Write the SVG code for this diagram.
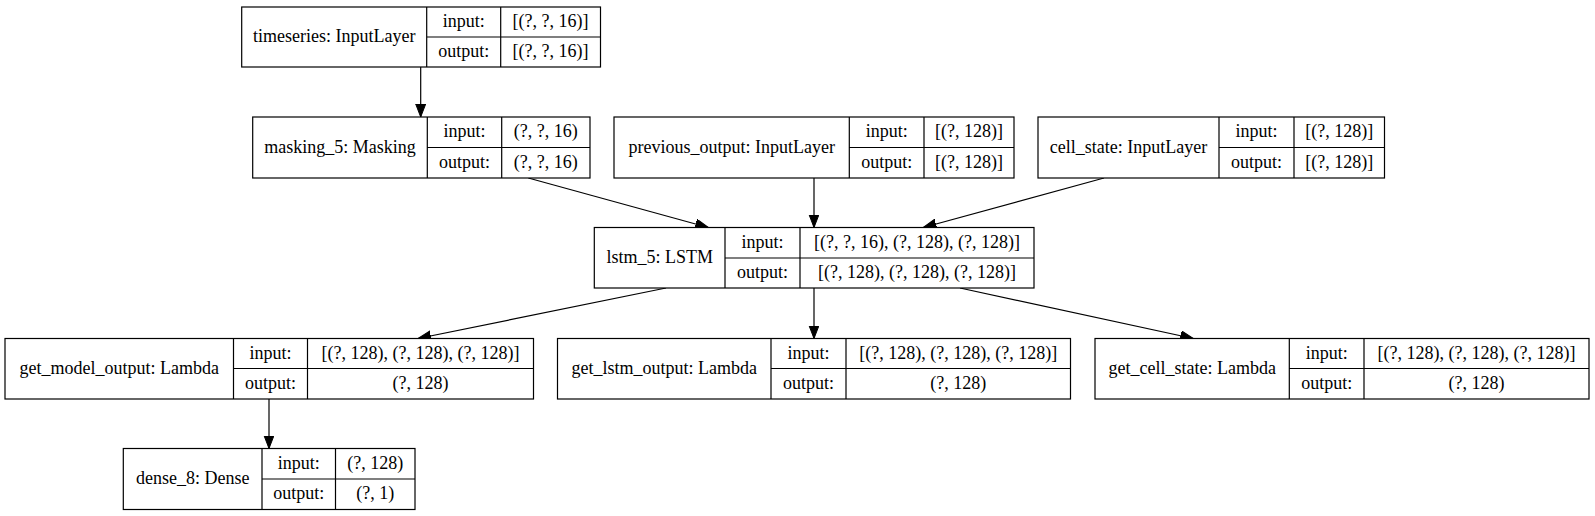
<svg xmlns="http://www.w3.org/2000/svg" width="1595" height="516" viewBox="0 0 1595 516" font-family="'Liberation Serif', 'DejaVu Serif', serif">
<style>
.b{fill:#fff;stroke:#000;stroke-width:1.2}
.d{stroke:#000;stroke-width:1.2;fill:none}
.t{font-family:'Liberation Serif', 'DejaVu Serif', serif;font-size:18px;fill:#000;text-anchor:middle}
.e{stroke:#000;stroke-width:1.2;fill:none;marker-end:url(#ah)}
</style>
<defs>
<marker id="ah" markerUnits="userSpaceOnUse" markerWidth="14" markerHeight="12" refX="13" refY="5" orient="auto">
<path d="M0,0 L13,5 L0,10 z" fill="#000" stroke="#000" stroke-width="1"/>
</marker>
</defs>
<rect width="1595" height="516" fill="#fff"/>
<g id="connectors">
<line class="e" x1="420.7" y1="67" x2="420.7" y2="117"/>
<line class="e" x1="528.3" y1="178" x2="708.3" y2="227.5"/>
<line class="e" x1="814" y1="178" x2="814" y2="227.5"/>
<line class="e" x1="1104" y1="178" x2="923.3" y2="227.5"/>
<line class="e" x1="666" y1="288" x2="418" y2="338.5"/>
<line class="e" x1="814" y1="288" x2="814" y2="338.5"/>
<line class="e" x1="960" y1="288" x2="1193.3" y2="338.5"/>
<line class="e" x1="269" y1="399" x2="269" y2="448.5"/>
</g>
<g id="timeseries" class="t">
<rect class="b" x="241.7" y="7" width="358.8" height="60"/>
<path class="d" d="M426.7,7V67M500.7,7V67M426.7,37H600.5"/>
<text x="334.2" y="42">timeseries: InputLayer</text>
<text x="463.7" y="27">input:</text>
<text x="463.7" y="57">output:</text>
<text x="550.6" y="27">[(?, ?, 16)]</text>
<text x="550.6" y="57">[(?, ?, 16)]</text>
</g>
<g id="masking_5" class="t">
<rect class="b" x="252.7" y="117" width="337.3" height="61"/>
<path class="d" d="M427.3,117V178M501.7,117V178M427.3,147.5H590"/>
<text x="340" y="152.5">masking_5: Masking</text>
<text x="464.5" y="137.3">input:</text>
<text x="464.5" y="167.8">output:</text>
<text x="545.8" y="137.3">(?, ?, 16)</text>
<text x="545.8" y="167.8">(?, ?, 16)</text>
</g>
<g id="previous_output" class="t">
<rect class="b" x="614" y="117" width="400" height="61"/>
<path class="d" d="M849.3,117V178M924,117V178M849.3,147.5H1014"/>
<text x="731.7" y="152.5">previous_output: InputLayer</text>
<text x="886.7" y="137.3">input:</text>
<text x="886.7" y="167.8">output:</text>
<text x="969" y="137.3">[(?, 128)]</text>
<text x="969" y="167.8">[(?, 128)]</text>
</g>
<g id="cell_state" class="t">
<rect class="b" x="1038" y="117" width="346.5" height="61"/>
<path class="d" d="M1219,117V178M1294,117V178M1219,147.5H1384.5"/>
<text x="1128.5" y="152.5">cell_state: InputLayer</text>
<text x="1256.5" y="137.3">input:</text>
<text x="1256.5" y="167.8">output:</text>
<text x="1339.2" y="137.3">[(?, 128)]</text>
<text x="1339.2" y="167.8">[(?, 128)]</text>
</g>
<g id="lstm_5" class="t">
<rect class="b" x="594.3" y="227.5" width="439.7" height="60.5"/>
<path class="d" d="M725,227.5V288M800,227.5V288M725,258H1034"/>
<text x="659.7" y="263">lstm_5: LSTM</text>
<text x="762.5" y="247.7">input:</text>
<text x="762.5" y="278">output:</text>
<text x="917" y="247.7">[(?, ?, 16), (?, 128), (?, 128)]</text>
<text x="917" y="278">[(?, 128), (?, 128), (?, 128)]</text>
</g>
<g id="get_model_output" class="t">
<rect class="b" x="5" y="338.5" width="528.5" height="60.5"/>
<path class="d" d="M233.5,338.5V399M307.5,338.5V399M233.5,368.5H533.5"/>
<text x="119.3" y="374">get_model_output: Lambda</text>
<text x="270.5" y="358.7">input:</text>
<text x="270.5" y="389">output:</text>
<text x="420.5" y="358.7">[(?, 128), (?, 128), (?, 128)]</text>
<text x="420.5" y="389">(?, 128)</text>
</g>
<g id="get_lstm_output" class="t">
<rect class="b" x="557.5" y="338.5" width="513" height="60.5"/>
<path class="d" d="M771,338.5V399M846,338.5V399M771,368.5H1070.5"/>
<text x="664.3" y="374">get_lstm_output: Lambda</text>
<text x="808.5" y="358.7">input:</text>
<text x="808.5" y="389">output:</text>
<text x="958.3" y="358.7">[(?, 128), (?, 128), (?, 128)]</text>
<text x="958.3" y="389">(?, 128)</text>
</g>
<g id="get_cell_state" class="t">
<rect class="b" x="1095" y="338.5" width="494" height="60.5"/>
<path class="d" d="M1289.3,338.5V399M1364,338.5V399M1289.3,368.5H1589"/>
<text x="1192.2" y="374">get_cell_state: Lambda</text>
<text x="1326.7" y="358.7">input:</text>
<text x="1326.7" y="389">output:</text>
<text x="1476.5" y="358.7">[(?, 128), (?, 128), (?, 128)]</text>
<text x="1476.5" y="389">(?, 128)</text>
</g>
<g id="dense_8" class="t">
<rect class="b" x="123.3" y="448.5" width="291.7" height="61"/>
<path class="d" d="M262,448.5V509.5M335.5,448.5V509.5M262,479H415"/>
<text x="192.7" y="484">dense_8: Dense</text>
<text x="298.8" y="468.8">input:</text>
<text x="298.8" y="499.3">output:</text>
<text x="375.3" y="468.8">(?, 128)</text>
<text x="375.3" y="499.3">(?, 1)</text>
</g>
</svg>
